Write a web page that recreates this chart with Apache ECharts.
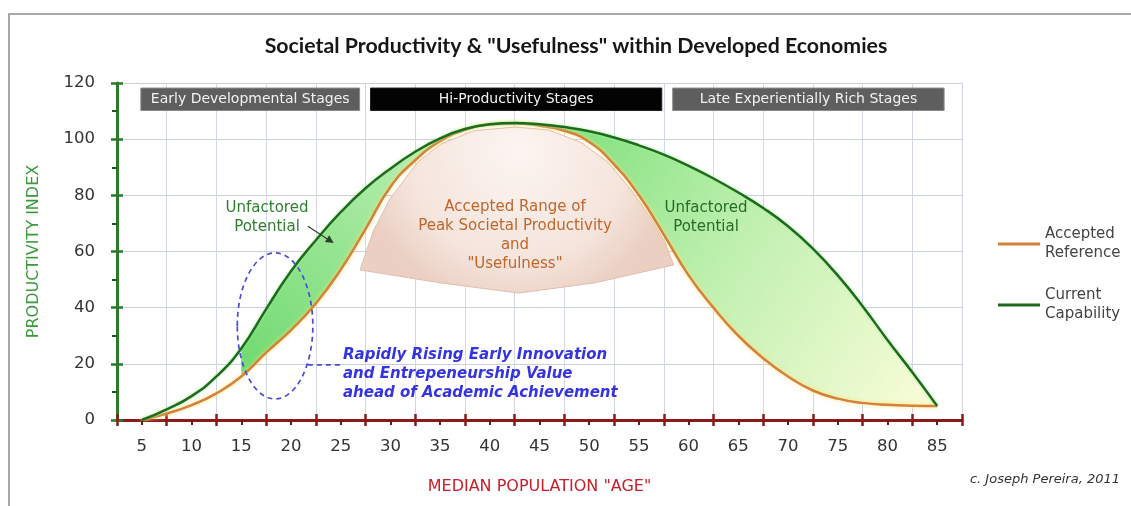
<!DOCTYPE html>
<html><head><meta charset="utf-8">
<script src="https://cdn.jsdelivr.net/npm/echarts@6/dist/echarts.min.js"></script>
<style>html,body{margin:0;padding:0;background:#fff}#c{width:1131px;height:506px}</style>
</head><body><div id="c"></div>
<script>
// ---------------- data ----------------
const ages = [5,7.5,10,12.5,15,17.5,20,22.5,25,27.5,30,32.5,35,37.5,40,42.5,45,47.5,50,52.5,55,57.5,60,62.5,65,67.5,70,72.5,75,77.5,80,82.5,85];
const currentCapability = [0,3.8,8.5,15.5,25.5,39.5,53,64,74,82.5,89.5,95.5,100.3,103.6,105.3,105.8,105.3,104.3,102.8,100.6,97.8,94.5,90.5,86,81,75.5,69,61,51.5,40.5,28.5,17,5];
const acceptedReference = [0,2.3,5.3,9.5,15.5,24,32,41.5,53.5,68,83,92.5,99.3,103.3,105.2,105.6,104.8,103,99,91,80,66,51.5,40,30,22,15.5,10.5,7.6,6.1,5.4,5.1,5];
const ageLabels = ['5','10','15','20','25','30','35','40','45','50','55','60','65','70','75','80','85'];
const stageNames = ['Early Developmental Stages','Hi-Productivity Stages','Late Experientially Rich Stages'];
const stageFrom = [4.9, 28.0, 58.4];
const stageTo = [26.9, 57.3, 85.7];
const leftFillRange = [15, 37.5];
const rightFillRange = [42.5, 85];
// accepted range of peak productivity (fan outline, age / index)
const fanOutline = [[27.0,54.1],[28.3,67.5],[30.0,79.0],[32.8,92.0],[35.1,98.3],[38.4,103.0],[42.5,104.3],[45.9,103.3],[49.2,98.8],[51.9,91.8],[54.3,81.5],[56.3,71.5],[57.6,63.5],[58.5,55.2],[50.5,48.8],[42.9,45.2],[35.1,48.8],[27.0,53.4]];
const ellipseCenter = [18.4, 33.5];
const ellipseRadius = [3.8, 26];
const connector = [[21.7,19.6],[25.1,19.6]];
const arrow = [[21.7,69],[24.3,63]];

// ---------------- derived tables ----------------
const X_MIN = 2.5, X_MAX = 87.5;
const ageCats = [X_MIN].concat(ages, [X_MAX]).map(String);
const pad = a => ['-'].concat(a, ['-']);
const diffIn = r => pad(ages.map((x,i)=> (x>=r[0] && x<=r[1]) ? Math.max(0,currentCapability[i]-acceptedReference[i]) : '-'));

const FONT = '"DejaVu Sans",Verdana,sans-serif';
const chart = echarts.init(document.getElementById('c'), null, {renderer:'canvas'});

const stageArea = stageNames.map((n,i)=>[
  {name:n, xAxis:stageFrom[i], yAxis:110.2, itemStyle:{color: i===1 ? '#030303' : '#5e5e5e', borderColor: i===1 ? '#222' : '#8a8a8a', borderWidth:1}},
  {xAxis:stageTo[i], yAxis:118.2}
]);

function txt(x,y,text,o){
  return {type:'text', x:x, y:y, silent:true, z:50, style:Object.assign({text:text, fontFamily:FONT, fontSize:15, fill:'#333', align:'center', verticalAlign:'middle', lineHeight:19}, o||{})};
}

const option = {
  animation:false,
  backgroundColor:'#fff',
  grid:{left:117, right:169, top:83, bottom:86},
  legend:{
    orient:'vertical', left:993, top:220, itemWidth:42, itemHeight:3, icon:'rect', itemGap:23,
    data:['Accepted Reference','Current Capability'],
    formatter: n => n.replace(' ','\n'),
    textStyle:{fontFamily:FONT, fontSize:15, color:'#444', lineHeight:19}
  },
  xAxis:[
    {type:'value', min:X_MIN, max:X_MAX, interval:5, position:'bottom',
     axisLine:{show:true, onZero:false, lineStyle:{color:'#8b1b1b', width:3}},
     axisTick:{show:true, length:6, lineStyle:{color:'#8b1b1b', width:2.5}},
     minorTick:{show:true, splitNumber:2, length:5, lineStyle:{color:'#6b1a1a', width:2}},
     axisLabel:{show:false},
     splitLine:{show:true, lineStyle:{color:'#d2d6e6', width:1}},
     name:'MEDIAN POPULATION "AGE"', nameLocation:'middle', nameGap:59,
     nameTextStyle:{color:'#c8202a', fontSize:16, fontFamily:FONT}},
    {type:'value', min:X_MIN, max:X_MAX, interval:5, position:'bottom',
     axisLine:{show:false}, axisTick:{show:true, inside:true, length:6, lineStyle:{color:'#8b1b1b', width:2.5}},
     axisLabel:{show:false}, splitLine:{show:false}},
    {type:'category', data:ageLabels, boundaryGap:true, position:'bottom',
     axisLine:{show:false}, axisTick:{show:false}, splitLine:{show:false},
     axisLabel:{fontFamily:FONT, fontSize:16.5, color:'#333', margin:18}},
    {type:'category', data:ageCats, boundaryGap:false, position:'bottom', show:false}
  ],
  yAxis:[
    {type:'value', min:0, max:120, interval:20, position:'left',
     axisLine:{show:true, lineStyle:{color:'#2b7a2b', width:3}},
     axisTick:{show:true, length:6, lineStyle:{color:'#2b7a2b', width:2.5}},
     minorTick:{show:true, splitNumber:2, length:5, lineStyle:{color:'#1d5a1d', width:2}},
     axisLabel:{fontFamily:FONT, fontSize:16.5, color:'#333', margin:22},
     splitLine:{show:true, lineStyle:{color:'#c9cfe1', width:1}},
     name:'PRODUCTIVITY INDEX', nameLocation:'middle', nameGap:75,
     nameTextStyle:{color:'#3a9a3a', fontSize:16, fontFamily:FONT}},
    {type:'value', min:0, max:120, interval:20, position:'left',
     axisLine:{show:false}, axisTick:{show:true, inside:true, length:6, lineStyle:{color:'#2b7a2b', width:2.5}},
     axisLabel:{show:false}, splitLine:{show:false}}
  ],
  graphic:[
    {type:'rect', shape:{x:9, y:14, width:1300, height:700}, style:{fill:'transparent', stroke:'#8c8c8c', lineWidth:1.5}, silent:true, z:0},
    txt(576,46,'Societal Productivity & "Usefulness" within Developed Economies',{fontFamily:'Lato, "Open Sans", sans-serif', fontWeight:'bold', fontSize:21.3, fill:'#161616'}),
    txt(267,217.5,'Unfactored\nPotential',{fill:'#2e7e2e'}),
    txt(706,217.5,'Unfactored\nPotential',{fill:'#286a28'}),
    txt(515,235.5,'Accepted Range of\nPeak Societal Productivity\nand\n"Usefulness"',{fill:'#c0662c'}),
    txt(343,374,'Rapidly Rising Early Innovation\nand Entrepeneurship Value\nahead of Academic Achievement',{align:'left', fill:'#3434e2', fontStyle:'italic', fontWeight:'bold', fontSize:15}),
    txt(1120,480,'c. Joseph Pereira, 2011',{align:'right', fontStyle:'italic', fontSize:13, fill:'#333'})
  ],
  series:[
    {type:'custom', name:'fan', silent:true, z:1, xAxisIndex:0, yAxisIndex:0, data:[[42.5,80]],
     renderItem:(params, api)=>{
       const pts = fanOutline.map(p=>api.coord(p));
       return {type:'polygon', shape:{points:pts},
         style:{fill:{type:'radial', x:0.5, y:0.15, r:0.95, colorStops:[{offset:0,color:'#fcf5f1'},{offset:0.7,color:'#f5e4dc'},{offset:1,color:'#eacfc2'}]},
                stroke:'#dfbfae', lineWidth:1}};
     },
     markArea:{silent:true, label:{show:true, position:'inside', color:'#f2f2f2', fontFamily:FONT, fontSize:14}, data:stageArea}},
    {type:'line', name:'baseL', xAxisIndex:3, stack:'L', data:pad(acceptedReference), symbol:'none', smooth:true, lineStyle:{opacity:0}, silent:true, z:2},
    {type:'line', name:'fillL', xAxisIndex:3, stack:'L', data:diffIn(leftFillRange), symbol:'none', smooth:true, lineStyle:{opacity:0}, silent:true, z:2,
     areaStyle:{opacity:1, color:{type:'linear', x:0, y:1, x2:1, y2:0, colorStops:[{offset:0,color:'#6fda6f'},{offset:1,color:'#c3f1ba'}]}}},
    {type:'line', name:'baseR', xAxisIndex:3, stack:'R', data:pad(acceptedReference), symbol:'none', smooth:true, lineStyle:{opacity:0}, silent:true, z:2},
    {type:'line', name:'fillR', xAxisIndex:3, stack:'R', data:diffIn(rightFillRange), symbol:'none', smooth:true, lineStyle:{opacity:0}, silent:true, z:2,
     areaStyle:{opacity:1, color:{type:'linear', x:0, y:0, x2:1, y2:1, colorStops:[{offset:0,color:'#72de72'},{offset:0.5,color:'#c0f0b0'},{offset:1,color:'#fbfdd9'}]}}},
    {type:'line', name:'Accepted Reference', xAxisIndex:3, data:pad(acceptedReference), symbol:'none', smooth:true, color:'#d4823a', z:4,
     lineStyle:{color:'#d4823a', width:2.5, shadowColor:'rgba(255,222,120,0.95)', shadowBlur:4}},
    {type:'line', name:'Current Capability', xAxisIndex:3, data:pad(currentCapability), symbol:'none', smooth:true, color:'#1d6b1d', z:5,
     lineStyle:{color:'#1d6b1d', width:2.5, shadowColor:'rgba(170,240,160,0.9)', shadowBlur:3}},
    {type:'custom', name:'notes', silent:true, z:6, xAxisIndex:0, yAxisIndex:0, data:[[18.4,33.5]],
     renderItem:(params, api)=>{
       const c = api.coord(ellipseCenter);
       const e = api.coord([ellipseCenter[0]+ellipseRadius[0], ellipseCenter[1]+ellipseRadius[1]]);
       const a = api.coord(connector[0]), b = api.coord(connector[1]);
       const p = api.coord(arrow[0]), q = api.coord(arrow[1]);
       const ang = Math.atan2(q[1]-p[1], q[0]-p[0]);
       const hl = 8, hw = 4;
       const bx = q[0]-hl*Math.cos(ang), by = q[1]-hl*Math.sin(ang);
       const head = [[q[0],q[1]],[bx+hw*Math.sin(ang), by-hw*Math.cos(ang)],[bx-hw*Math.sin(ang), by+hw*Math.cos(ang)]];
       const dash = {stroke:'#4b4bd6', lineWidth:1.7, lineDash:[5,4], fill:'transparent'};
       return {type:'group', children:[
         {type:'ellipse', shape:{cx:c[0], cy:c[1], rx:e[0]-c[0], ry:c[1]-e[1]}, style:dash},
         {type:'line', shape:{x1:a[0], y1:a[1], x2:b[0], y2:b[1]}, style:dash},
         {type:'line', shape:{x1:p[0], y1:p[1], x2:bx, y2:by}, style:{stroke:'#2f3f2f', lineWidth:1.2}},
         {type:'polygon', shape:{points:head}, style:{fill:'#2f3f2f'}}
       ]};
     }}
  ]
};
chart.setOption(option);
</script>
</body></html>
